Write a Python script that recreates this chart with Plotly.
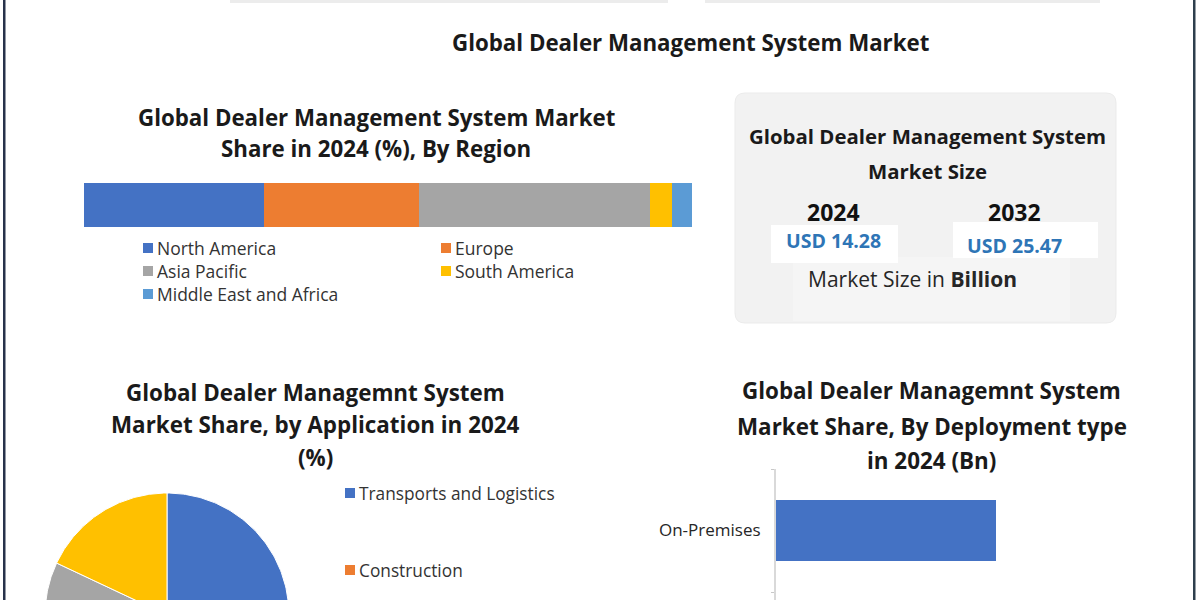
import numpy as np
import plotly.graph_objects as go

W, H = 1200, 600
FONT = "Open Sans"

# ---------------- data ----------------
regions = ["North America", "Europe", "Asia Pacific", "South America", "Middle East and Africa"]
region_share = [29.6, 25.5, 38.0, 3.6, 3.3]
region_colors = ["#4472C4", "#ED7D31", "#A5A5A5", "#FFC000", "#5B9BD5"]

applications = ["Transports and Logistics", "Construction", "Agriculture", "Others"]
application_share = [36, 26, 20, 18]
application_colors = ["#4472C4", "#ED7D31", "#A5A5A5", "#FFC000"]

deployment_types = ["Cloud", "On-Premises"]
deployment_value = [6.04, 8.24]

size_years = ["2024", "2032"]
size_values = ["USD 14.28", "USD 25.47"]


def px(x):
    return x / W


def py(y):
    return 1 - y / H


fig = go.Figure()

# ---------- stacked region bar ----------
for name, val, col in zip(regions, region_share, region_colors):
    fig.add_trace(go.Bar(
        x=[val], y=["Region"], orientation="h", name=name,
        marker=dict(color=col, line=dict(width=0)),
        xaxis="x", yaxis="y", showlegend=False, width=1, hoverinfo="name+x",
    ))

# ---------- deployment bar ----------
fig.add_trace(go.Bar(
    x=deployment_value, y=deployment_types, orientation="h",
    marker=dict(color="#4472C4", line=dict(width=0)), width=0.5,
    xaxis="x2", yaxis="y2", showlegend=False,
))

# ---------- application pie (cropped, drawn as wedges) ----------
cum = np.concatenate([[0], np.cumsum(application_share)]) / sum(application_share)
for i, (name, col) in enumerate(zip(applications, application_colors)):
    a0, a1 = cum[i] * 2 * np.pi, cum[i + 1] * 2 * np.pi
    t = np.linspace(a0, a1, 120)
    xs = np.concatenate([[0], np.sin(t), [0]])
    ys = np.concatenate([[0], np.cos(t), [0]])
    fig.add_trace(go.Scatter(
        x=xs, y=ys, mode="lines", fill="toself", fillcolor=col,
        line=dict(color="white", width=1), name=name,
        xaxis="x3", yaxis="y3", showlegend=False, hoverinfo="name",
    ))

# pie placement: center (167, 615), radius 122 px
PCX, PCY, PR = 167, 615, 122
axis_off = dict(visible=False, showgrid=False, zeroline=False, fixedrange=True)

fig.update_layout(
    width=W, height=H,
    margin=dict(l=0, r=0, t=0, b=0),
    paper_bgcolor="white", plot_bgcolor="rgba(0,0,0,0)",
    barmode="stack", bargap=0,
    font=dict(family=FONT, color="#1a1a1a"),
    xaxis=dict(domain=[px(84), px(692)], range=[0, 100], anchor="y", **axis_off),
    yaxis=dict(domain=[py(227), py(183)], range=[-0.5, 0.5], anchor="x", **axis_off),
    xaxis2=dict(domain=[px(776), px(1150)], range=[0, 14], anchor="y2", **axis_off),
    yaxis2=dict(
        domain=[0, py(469)], range=[0.435, 1.5], anchor="x2",
        showline=True, linecolor="#d9d9d9", linewidth=2,
        ticks="outside", tickson="boundaries", ticklen=3, tickcolor="#c8c8c8",
        tickfont=dict(size=17, color="#262626", family=FONT),
        ticklabelstandoff=10, showgrid=False, zeroline=False,
        categoryorder="array", categoryarray=deployment_types,
    ),
    xaxis3=dict(domain=[0, px(600)], range=[(0 - PCX) / PR, (600 - PCX) / PR], anchor="y3", **axis_off),
    yaxis3=dict(domain=[0, py(300)], range=[(PCY - 600) / PR, (PCY - 300) / PR], anchor="x3", **axis_off),
)

shapes = []
ann = []


def text(x, y, s, size, bold=False, color="#1a1a1a", xanchor="center"):
    ann.append(dict(
        x=px(x), y=py(y), xref="paper", yref="paper", text=f"<b>{s}</b>" if bold else s,
        showarrow=False, xanchor=xanchor, yanchor="middle",
        font=dict(size=size, color=color, family=FONT),
    ))


def rect(x0, y0, x1, y1, fill, line=None, layer="below"):
    shapes.append(dict(
        type="rect", xref="paper", yref="paper",
        x0=px(x0), x1=px(x1), y0=py(y1), y1=py(y0),
        fillcolor=fill, line=dict(width=0) if line is None else line, layer=layer,
    ))


def rounded_rect(x0, y0, x1, y1, r, fill, linecol):
    X0, X1, Y0, Y1 = px(x0), px(x1), py(y0), py(y1)
    rx, ry = r / W, r / H
    path = (
        f"M {X0 + rx},{Y0} L {X1 - rx},{Y0} Q {X1},{Y0} {X1},{Y0 - ry} "
        f"L {X1},{Y1 + ry} Q {X1},{Y1} {X1 - rx},{Y1} "
        f"L {X0 + rx},{Y1} Q {X0},{Y1} {X0},{Y1 + ry} "
        f"L {X0},{Y0 - ry} Q {X0},{Y0} {X0 + rx},{Y0} Z"
    )
    shapes.append(dict(type="path", xref="paper", yref="paper", path=path,
                       fillcolor=fill, line=dict(color=linecol, width=1), layer="below"))


# faint remnants at top and outer border
rect(230, 0, 668, 3, "#ececec")
rect(705, 0, 1100, 3, "#ececec")
rect(3, 0, 5.5, 600, "#27324a", layer="above")
rect(1193, 0, 1195.5, 600, "#2e3f4d", layer="above")

# main title
text(690, 43, "Global Dealer Management System Market", 22.3, bold=True)

# region section
text(376, 117, "Global Dealer Management System Market", 22.3, bold=True)
text(376, 149, "Share in 2024 (%), By Region", 22.3, bold=True)
leg_pos = [(143, 248), (441, 248), (143, 271), (441, 271), (143, 294)]
for (lx, ly), name, col in zip(leg_pos, regions, region_colors):
    rect(lx, ly - 5, lx + 10, ly + 5, col)
    text(lx + 12, ly, name, 17.5, color="#333333", xanchor="left")

# market size box
rounded_rect(735, 93, 1116, 323, 10, "#f2f2f2", "#ebebeb")
rect(793, 257, 1070, 321, "#f5f5f5")
rect(771, 225, 898, 263, "white")
rect(953, 222, 1098, 258, "white")
text(927, 136, "Global Dealer Management System", 20.4, bold=True)
text(927, 171, "Market Size", 20.4, bold=True)
for cx, yy, vy, yr, val in [(834, 212, 241, size_years[0], size_values[0]),
                            (1014, 212, 245, size_years[1], size_values[1])]:
    text(cx, yy, yr, 23, bold=True, color="#111111")
    text(cx, vy, val, 19.5, bold=True, color="#2E75B6")
text(912, 279, "Market Size in <b>Billion</b>", 21, color="#262626")

# application section
text(315, 392, "Global Dealer Managemnt System", 22.4, bold=True)
text(315, 424, "Market Share, by Application in 2024", 22.4, bold=True)
text(315, 457, "(%)", 22.4, bold=True)
for (lx, ly), name, col in zip([(345, 493), (345, 570)], applications[:2], application_colors[:2]):
    rect(lx, ly - 5, lx + 10, ly + 5, col)
    text(lx + 12, ly, name, 17.3, color="#333333", xanchor="left")

# deployment section
text(932, 391, "Global Dealer Managemnt System", 22.4, bold=True)
text(932, 426, "Market Share, By Deployment type", 22.4, bold=True)
text(932, 460, "in 2024 (Bn)", 22.4, bold=True)

fig.update_layout(shapes=shapes, annotations=ann)
fig.write_html("out.html")
